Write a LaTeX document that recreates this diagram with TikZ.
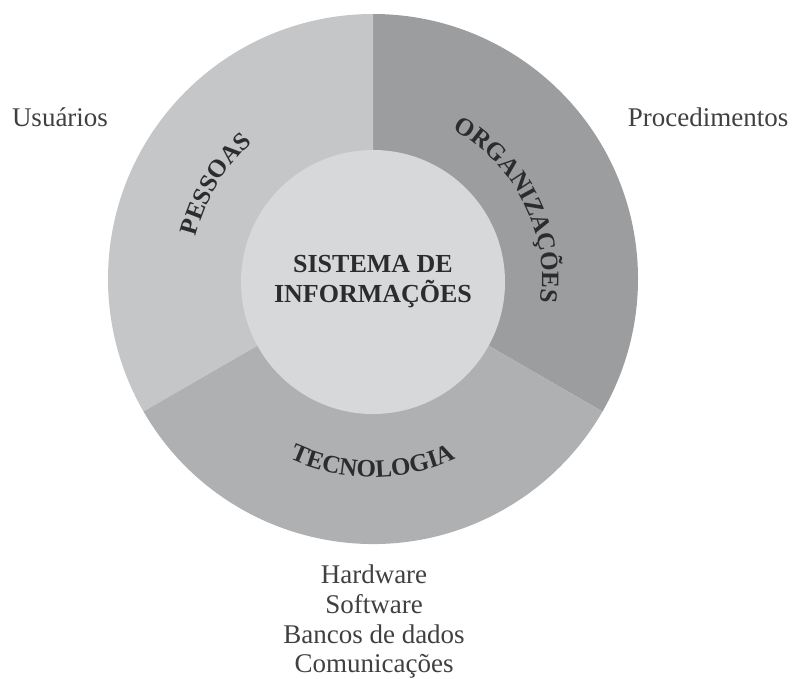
\documentclass[tikz,border=0pt]{standalone}
\usepackage{fontspec}
\setmainfont{Liberation Serif}
\usetikzlibrary{decorations.text}
\definecolor{cpess}{HTML}{C5C6C8}
\definecolor{corg}{HTML}{9C9D9F}
\definecolor{ctec}{HTML}{AFB0B2}
\definecolor{cinner}{HTML}{D7D8DA}
\definecolor{labdark}{HTML}{2C2C2C}
\definecolor{labreg}{HTML}{404040}
\newcommand{\mylabfont}{\bfseries\fontsize{25pt}{25pt}\selectfont\color{labdark}}
\tikzset{
  sector/.style={draw=none},
  regtext/.style={font=\fontsize{27pt}{31pt}\selectfont, text=labreg, inner sep=0pt},
  boldtext/.style={font=\bfseries\fontsize{26pt}{31pt}\selectfont, text=labdark, inner sep=0pt},
  arclabel/.style={decorate, decoration={text along path, text align=center, text={|\mylabfont|#1}}}
}
\begin{document}
\begin{tikzpicture}
\useasboundingbox (0pt,0pt) rectangle (794pt,-679pt);
\coordinate (C) at (373pt,-279pt);
% sectors
\fill[sector, corg] (C) -- ++(90:265pt) arc[start angle=90, end angle=-30, radius=265pt] -- cycle;
\fill[sector, cpess] (C) -- ++(90:265pt) arc[start angle=90, end angle=210, radius=265pt] -- cycle;
\fill[sector, ctec] (C) -- ++(210:265pt) arc[start angle=210, end angle=330, radius=265pt] -- cycle;
% inner circle
\node[circle, fill=cinner, minimum size=264pt, inner sep=0pt] (centro) at (373pt,-282pt) {};
\node[boldtext, anchor=base] (sis1) at (373pt,-272pt) {SISTEMA DE};
\node[boldtext, anchor=base] (sis2) at (373pt,-302pt) {INFORMAÇÕES};
% curved labels
\path[shift={(373pt,-279pt)}, arclabel={PESSOAS}] (180:182pt) arc[start angle=180, end angle=118, radius=182pt];
\path[shift={(373pt,-279pt)}, arclabel={ORGANIZAÇÕES}] (72:169pt) arc[start angle=72, end angle=-18, radius=169pt];
\path[shift={(373pt,-279pt)}, arclabel={TECNOLOGIA}] (230:198pt) arc[start angle=230, end angle=310, radius=198pt];
% outside labels
\node[regtext, anchor=base] (usu) at (60pt,-127pt) {Usuários};
\node[regtext, anchor=base] (proc) at (708pt,-127pt) {Procedimentos};
\node[regtext, anchor=base] (hw) at (374pt,-583pt) {Hardware};
\node[regtext, anchor=base] (sw) at (374pt,-613pt) {Software};
\node[regtext, anchor=base] (bd) at (374pt,-643pt) {Bancos de dados};
\node[regtext, anchor=base] (com) at (374pt,-672pt) {Comunicações};
\end{tikzpicture}
\end{document}
